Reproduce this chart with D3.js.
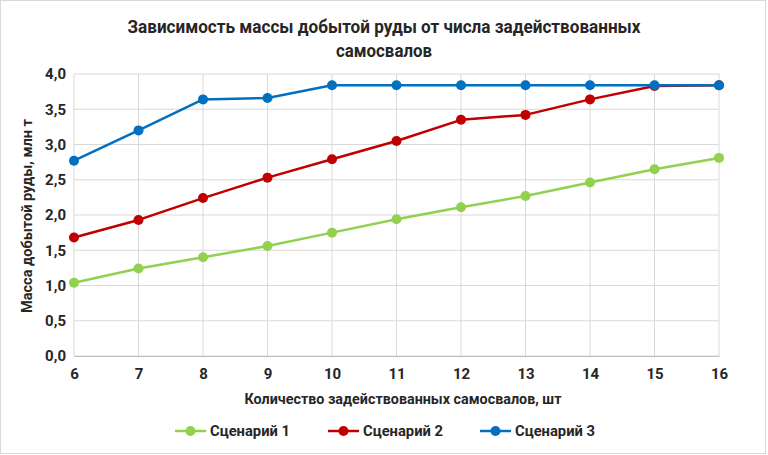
<!DOCTYPE html>
<html>
<head>
<meta charset="utf-8">
<script src="https://cdn.jsdelivr.net/npm/d3@7"></script>
<style>
  body { margin: 0; background: #fff; }
  svg text { font-family: Roboto, "Open Sans", sans-serif; font-weight: bold; fill: #262626; }
</style>
</head>
<body>
<div id="chart"></div>
<script>
const trucks = [6, 7, 8, 9, 10, 11, 12, 13, 14, 15, 16];
const scenario1 = [1.04, 1.24, 1.40, 1.56, 1.75, 1.94, 2.11, 2.27, 2.46, 2.65, 2.81];
const scenario2 = [1.68, 1.93, 2.24, 2.53, 2.79, 3.05, 3.35, 3.42, 3.64, 3.83, 3.84];
const scenario3 = [2.77, 3.20, 3.64, 3.66, 3.84, 3.84, 3.84, 3.84, 3.84, 3.84, 3.84];
const seriesNames = ["Сценарий 1", "Сценарий 2", "Сценарий 3"];
const seriesColors = ["#92d050", "#c00000", "#0070c0"];
const yTicks = [0, 0.5, 1, 1.5, 2, 2.5, 3, 3.5, 4];

const W = 768, H = 455;
const margin = { top: 74, right: 49, bottom: 99, left: 74 };

const svg = d3.select("#chart").append("svg")
    .attr("width", W)
    .attr("height", H);

// outer frame
svg.append("rect")
    .attr("x", 0.5).attr("y", 0.5)
    .attr("width", W - 3).attr("height", H - 2)
    .attr("fill", "#fff")
    .attr("stroke", "#d9d9d9");

const x = d3.scaleLinear()
    .domain([6, 16])
    .range([margin.left, W - margin.right]);

const y = d3.scaleLinear()
    .domain([0, 4])
    .range([H - margin.bottom, margin.top]);

// grid
svg.append("g")
    .selectAll("line")
    .data(yTicks)
    .join("line")
    .attr("x1", x(6)).attr("x2", x(16))
    .attr("y1", d => y(d)).attr("y2", d => y(d))
    .attr("stroke", "#d9d9d9").attr("stroke-width", 1);

svg.append("g")
    .selectAll("line")
    .data(trucks)
    .join("line")
    .attr("x1", d => x(d)).attr("x2", d => x(d))
    .attr("y1", y(0)).attr("y2", y(4))
    .attr("stroke", "#d9d9d9").attr("stroke-width", 1);

// axes
const fmt = d => d.toFixed(1).replace(".", ",");
const yAxis = svg.append("g")
    .attr("transform", `translate(${margin.left},0)`)
    .call(d3.axisLeft(y).tickValues(yTicks).tickFormat(fmt).tickSize(0).tickPadding(8));
yAxis.select(".domain").remove();

const xAxis = svg.append("g")
    .attr("transform", `translate(0,${y(0)})`)
    .call(d3.axisBottom(x).tickValues(trucks).tickFormat(d3.format("d")).tickSize(0).tickPadding(12));
xAxis.select(".domain").attr("stroke", "#bfbfbf");

svg.selectAll(".tick text")
    .attr("font-size", 15)
    .style("font-family", 'Roboto, "Open Sans", sans-serif')
    .style("font-weight", "bold")
    .attr("fill", "#262626");

// series
const allSeries = [scenario1, scenario2, scenario3];
const line = d3.line().x((d, i) => x(trucks[i])).y(d => y(d));

allSeries.forEach((vals, k) => {
    svg.append("path")
        .datum(vals)
        .attr("d", line)
        .attr("fill", "none")
        .attr("stroke", seriesColors[k])
        .attr("stroke-width", 2.5)
        .attr("stroke-linejoin", "round");
    svg.append("g")
        .selectAll("circle")
        .data(vals)
        .join("circle")
        .attr("cx", (d, i) => x(trucks[i]))
        .attr("cy", d => y(d))
        .attr("r", 5)
        .attr("fill", seriesColors[k]);
});

// title
svg.append("text")
    .attr("x", 384).attr("y", 33)
    .attr("text-anchor", "middle")
    .attr("font-size", 18)
    .attr("textLength", 513).attr("lengthAdjust", "spacingAndGlyphs")
    .text("Зависимость массы добытой руды от числа задействованных");
svg.append("text")
    .attr("x", 384).attr("y", 57)
    .attr("text-anchor", "middle")
    .attr("font-size", 18)
    .attr("textLength", 96).attr("lengthAdjust", "spacingAndGlyphs")
    .text("самосвалов");

// axis titles
svg.append("text")
    .attr("x", 403).attr("y", 404)
    .attr("text-anchor", "middle")
    .attr("font-size", 15)
    .attr("textLength", 317).attr("lengthAdjust", "spacingAndGlyphs")
    .text("Количество задействованных самосвалов, шт");

svg.append("text")
    .attr("transform", "translate(32,216) rotate(-90)")
    .attr("text-anchor", "middle")
    .attr("font-size", 15)
    .attr("textLength", 194).attr("lengthAdjust", "spacingAndGlyphs")
    .text("Масса добытой руды, млн т");

// legend
const legendX = [175, 328, 480];
const legend = svg.append("g")
    .selectAll("g")
    .data(seriesNames)
    .join("g")
    .attr("transform", (d, i) => `translate(${legendX[i]},431)`);
legend.append("line")
    .attr("x1", 0).attr("x2", 31)
    .attr("stroke", (d, i) => seriesColors[i])
    .attr("stroke-width", 2.5);
legend.append("circle")
    .attr("cx", 15.5).attr("r", 5)
    .attr("fill", (d, i) => seriesColors[i]);
legend.append("text")
    .attr("x", 35).attr("y", 5)
    .attr("font-size", 15)
    .attr("textLength", 80).attr("lengthAdjust", "spacingAndGlyphs")
    .text(d => d);
</script>
</body>
</html>
